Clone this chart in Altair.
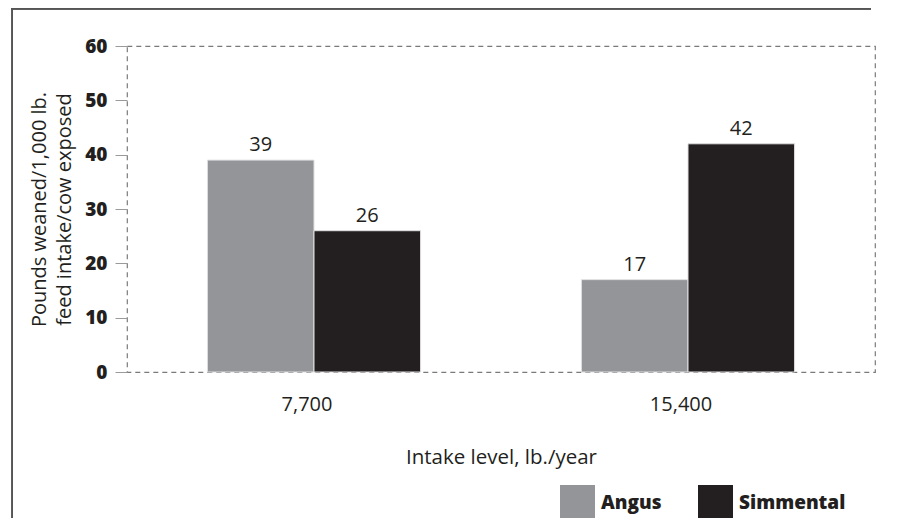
import altair as alt
import pandas as pd

intake = ["7,700", "7,700", "15,400", "15,400"]
breed = ["Angus", "Simmental", "Angus", "Simmental"]
value = [39, 26, 17, 42]

df = pd.DataFrame({"intake": intake, "breed": breed, "value": value})

FONT = "Open Sans"
TXT = "#231f20"

x = alt.X("intake:N", sort=["7,700", "15,400"],
          scale=alt.Scale(paddingInner=0.43, paddingOuter=0.215),
          axis=alt.Axis(title="Intake level, lb./year", labelAngle=0, domain=False, ticks=False,
                        labelPadding=22, labelFontSize=20, labelFont=FONT, labelColor=TXT, labelOffset=-7,
                        titleFontSize=20.5, titleFont=FONT, titleFontWeight="normal", titleColor=TXT,
                        titleBaseline="alphabetic", titleY=91))
y = alt.Y("value:Q", scale=alt.Scale(domain=[0, 60]),
          axis=alt.Axis(title=["Pounds weaned/1,000 lb.", "feed intake/cow exposed"],
                        values=[0, 10, 20, 30, 40, 50, 60], grid=False, domain=False,
                        tickSize=12, tickColor="#9a9a9a", tickWidth=1, tickOffset=0,
                        labelPadding=8, labelFontSize=19, labelFontWeight=800, labelFont=FONT,
                        labelColor=TXT, titleFontSize=20, titleFont=FONT, titleFontWeight="normal",
                        titleColor=TXT, titleBaseline="alphabetic", titleX=-82, titleLineHeight=25))

color = alt.Color("breed:N", scale=alt.Scale(domain=["Angus", "Simmental"], range=["#939598", "#231f20"]),
                  legend=alt.Legend(title=None, orient="none", legendX=433, legendY=439, direction="horizontal",
                                    symbolType="square", symbolSize=1225, symbolStrokeWidth=0,
                                    labelFont=FONT, labelFontSize=19, labelFontWeight=800, labelColor=TXT,
                                    labelOffset=6, columnPadding=36, padding=0))

bars = alt.Chart(df).mark_bar(stroke="#e0e0e0", strokeWidth=1).encode(
    x=x, xOffset=alt.XOffset("breed:N", sort=["Angus", "Simmental"]), y=y, color=color)

labels = alt.Chart(df).mark_text(dy=-5, baseline="bottom", fontSize=20, font=FONT, color=TXT).encode(
    x=x, xOffset=alt.XOffset("breed:N", sort=["Angus", "Simmental"]), y=y, text="value:Q")

frame_top = alt.Chart(df).mark_rect(color="#555555", clip=False).encode(
    x=alt.value(-115.5), x2=alt.value(744), y=alt.value(-38), y2=alt.value(-36.5))
frame_left = alt.Chart(df).mark_rect(color="#555555", clip=False).encode(
    x=alt.value(-115.5), x2=alt.value(-114), y=alt.value(-38), y2=alt.value(480))

chart = alt.layer(bars, labels, frame_top, frame_left).properties(
    width=748, height=326,
    autosize=alt.AutoSizeParams(type="none"),
    padding={"left": 119, "top": 38, "right": 6, "bottom": 146},
).configure_view(stroke="#7a7a7a", strokeDash=[5, 4], strokeWidth=1.2)

chart.save("out.html", embed_options={"renderer": "svg", "actions": False})
